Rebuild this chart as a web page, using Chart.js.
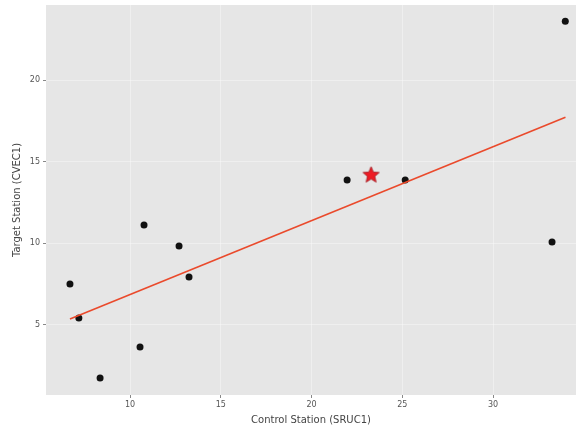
<!DOCTYPE html>
<html>
<head>
<meta charset="utf-8">
<script src="https://cdn.jsdelivr.net/npm/chart.js@4/dist/chart.umd.min.js"></script>
<style>
  html, body { margin: 0; padding: 0; background: #fff; }
  #wrap { width: 576px; height: 427px; position: relative; }
</style>
</head>
<body>
<div id="wrap"><canvas id="chart"></canvas></div>
<script>
// station readings
const controlX = [6.69, 7.18, 8.35, 10.55, 10.77, 12.70, 13.25, 21.96, 25.16, 33.25, 33.98];
const targetY = [7.51, 5.43, 1.75, 3.65, 11.12, 9.83, 7.94, 13.88, 13.88, 10.08, 23.6];

// fitted line end points
const fitX = [6.69, 33.99];
const fitY = [5.36, 17.72];

// highlighted point
const starX = [23.28];
const starY = [14.24];

const xTicks = [10, 15, 20, 25, 30];
const yTicks = [5, 10, 15, 20];

// filled five-point star for the highlighted point
function makeStar(r) {
  const c = document.createElement("canvas");
  const s = Math.ceil(r * 2 + 4);
  c.width = s; c.height = s;
  const g = c.getContext("2d");
  g.translate(s / 2, s / 2 + 1);
  g.beginPath();
  for (let i = 0; i < 10; i++) {
    const rad = i % 2 === 0 ? r : r * 0.45;
    const a = -Math.PI / 2 + i * Math.PI / 5;
    g.lineTo(rad * Math.cos(a), rad * Math.sin(a));
  }
  g.closePath();
  g.fillStyle = "#ee1c25";
  g.fill();
  g.strokeStyle = "#a01018";
  g.lineWidth = 0.8;
  g.stroke();
  return c;
}

const plotBg = {
  id: "plotBg",
  beforeDraw(chart) {
    const { ctx, chartArea: a } = chart;
    ctx.save();
    ctx.fillStyle = "#e6e6e6";
    ctx.fillRect(a.left, a.top, a.right - a.left, a.bottom - a.top);
    ctx.restore();
  },
};

// drop the label overhang padding so the plot fills to the edges
function noPad(s) {
  s.paddingTop = 0; s.paddingBottom = 0;
  s.paddingLeft = 0; s.paddingRight = 0;
}

const font = "'DejaVu Sans', sans-serif";

new Chart(document.getElementById("chart"), {
  type: "scatter",
  data: {
    datasets: [
      {
        label: "fit",
        type: "line",
        data: fitX.map((x, i) => ({ x, y: fitY[i] })),
        borderColor: "#ea4a2c",
        borderWidth: 1.6,
        pointRadius: 0,
        fill: false,
      },
      {
        label: "stations",
        data: controlX.map((x, i) => ({ x, y: targetY[i] })),
        backgroundColor: "#111",
        borderWidth: 0,
        pointRadius: 3.5,
      },
      {
        label: "star",
        data: starX.map((x, i) => ({ x, y: starY[i] })),
        pointStyle: makeStar(8.5),
      },
    ],
  },
  options: {
    responsive: true,
    maintainAspectRatio: false,
    animation: false,
    layout: { autoPadding: false, padding: { top: 5, right: 0, left: 0, bottom: 0 } },
    plugins: {
      legend: { display: false },
      tooltip: { enabled: false },
    },
    scales: {
      x: {
        type: "linear",
        min: 5.37,
        max: 34.57,
        afterBuildTicks: (s) => { s.ticks = xTicks.map((v) => ({ value: v })); },
        afterFit: (s) => { s.height = 32; noPad(s); },
        grid: { color: "rgba(255,255,255,0.35)", lineWidth: 1, tickLength: 3, tickColor: "#888", drawTicks: true },
        border: { display: false },
        ticks: { color: "#555", font: { family: font, size: 8 }, padding: 2, maxRotation: 0 },
        title: { display: true, text: "Control Station (SRUC1)", color: "#444", font: { family: font, size: 10 }, padding: { top: 0, bottom: 1 } },
      },
      y: {
        type: "linear",
        min: 0.71,
        max: 24.6,
        afterBuildTicks: (s) => { s.ticks = yTicks.map((v) => ({ value: v })); },
        afterFit: (s) => { s.width = 46; noPad(s); },
        grid: { color: "rgba(255,255,255,0.35)", lineWidth: 1, tickLength: 3, tickColor: "#888", drawTicks: true },
        border: { display: false },
        ticks: { color: "#555", font: { family: font, size: 8 }, padding: 3 },
        title: { display: true, text: "Target Station (CVEC1)", color: "#444", font: { family: font, size: 10 }, padding: { top: 11, bottom: 0 } },
      },
    },
  },
  plugins: [plotBg],
});
</script>
</body>
</html>
